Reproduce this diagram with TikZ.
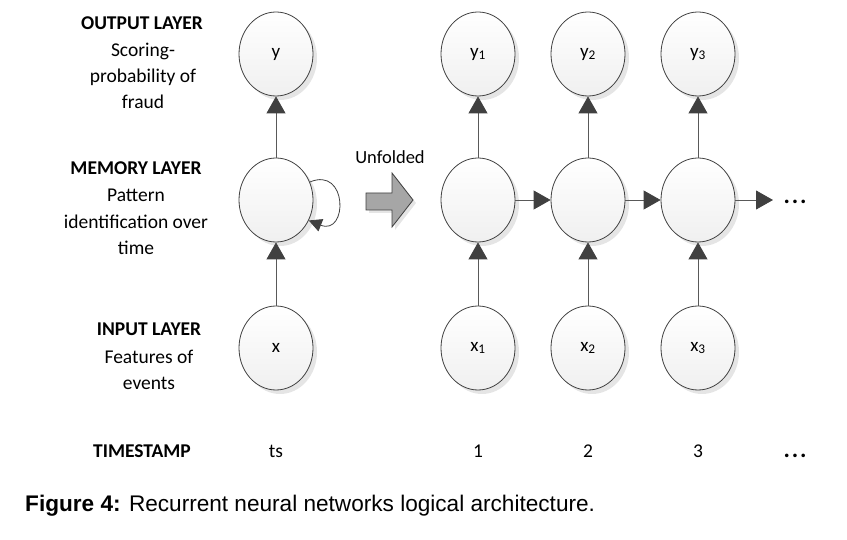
\documentclass[tikz,border=0pt]{standalone}
\usepackage{fontspec}
\setmainfont{Carlito}
\newfontfamily\capfont{Liberation Sans}
\usetikzlibrary{arrows.meta,shadows,shapes.geometric}
\definecolor{edgec}{HTML}{404040}
\definecolor{linec}{HTML}{595959}
\definecolor{bigarrow}{HTML}{A6A6A6}
\newcommand{\mydots}{.\kern1.8pt.\kern1.8pt.}
\begin{document}
\begin{tikzpicture}[x=1pt,y=-1pt,
  neuron/.style={ellipse,draw=edgec,line width=0.8pt,minimum width=74pt,minimum height=84pt,inner sep=0pt,
    top color=white,bottom color=black!6,
    drop shadow={shadow xshift=4pt,shadow yshift=-4pt,fill=black!10,opacity=1},
    font=\fontsize{19}{22}\selectfont},
  conn/.style={draw=linec,line width=0.8pt,-{Triangle[length=17pt,width=19pt,color=edgec]}},
  loopconn/.style={draw=edgec,line width=0.8pt,-{Triangle[length=13pt,width=13pt,color=edgec]}},
  lbl/.style={anchor=base,inner sep=0pt,font=\fontsize{19.5}{24}\selectfont},
  ttl/.style={lbl,font=\fontsize{19.5}{24}\selectfont\bfseries},
  dotsty/.style={anchor=base,inner sep=0pt,font=\fontsize{24}{26}\selectfont\bfseries},
]
\useasboundingbox (0,0) rectangle (847,540);

% left folded network
\node[neuron] (y0) at (276,54) {y};
\node[neuron] (m0) at (276,200) {};
\node[neuron] (x0) at (276,348) {x};

% unfolded network
\node[neuron] (y1) at (478,54) {y\textsubscript{1}};
\node[neuron] (y2) at (588,54) {y\textsubscript{2}};
\node[neuron] (y3) at (698,54) {y\textsubscript{3}};
\node[neuron] (m1) at (478,200) {};
\node[neuron] (m2) at (588,200) {};
\node[neuron] (m3) at (698,200) {};
\node[neuron] (x1) at (478,348) {x\textsubscript{1}};
\node[neuron] (x2) at (588,348) {x\textsubscript{2}};
\node[neuron] (x3) at (698,348) {x\textsubscript{3}};
\coordinate (mend) at (773,200);

% connectors
\draw[conn] (x0.north) -- (m0.south);
\draw[conn] (m0.north) -- (y0.south);
\draw[loopconn] (m0.28) .. controls (348,166) and (348,236) .. (m0.-32);
\foreach \i in {1,2,3}{
  \draw[conn] (x\i.north) -- (m\i.south);
  \draw[conn] (m\i.north) -- (y\i.south);
}
\draw[conn] (m1.east) -- (m2.west);
\draw[conn] (m2.east) -- (m3.west);
\draw[conn] (m3.east) -- (mend);
\node[dotsty] (mdots) at (795,204) {\mydots};

% big unfold arrow
\draw[draw=edgec,line width=0.8pt,fill=bigarrow,
  drop shadow={shadow xshift=3pt,shadow yshift=-3pt,fill=black!10,opacity=1}]
  (366,193) -- (392,193) -- (392,173) -- (413,200) -- (392,227) -- (392,210) -- (366,210) -- cycle;
\node[anchor=base,inner sep=0pt,font=\fontsize{18.5}{20}\selectfont] (unf) at (390,164) {Unfolded};

% left labels
\node[ttl] (outt) at (142,30) {OUTPUT LAYER};
\node[lbl] (out1) at (143,57) {Scoring-};
\node[lbl] (out2) at (143,83) {probability of};
\node[lbl] (out3) at (143,109) {fraud};

\node[ttl] (memt) at (136,175) {MEMORY LAYER};
\node[lbl] (mem1) at (136,202) {Pattern};
\node[lbl] (mem2) at (136,229) {identification over};
\node[lbl] (mem3) at (136,255) {time};

\node[ttl] (inpt) at (149,336) {INPUT LAYER};
\node[lbl] (inp1) at (149,363) {Features of};
\node[lbl] (inp2) at (149,389) {events};

\node[ttl] (tst) at (142,457) {TIMESTAMP};
\node[lbl] (ts0) at (276,457) {ts};
\node[lbl] (ts1) at (478,457) {1};
\node[lbl] (ts2) at (588,457) {2};
\node[lbl] (ts3) at (698,457) {3};
\node[dotsty] (tsd) at (795,457) {\mydots};

% caption
\node[anchor=base west,inner sep=0pt,font=\capfont\fontsize{22.6}{26}\selectfont] (cap) at (25,511)
  {\textbf{Figure 4:} Recurrent neural networks logical architecture.};
\end{tikzpicture}
\end{document}
